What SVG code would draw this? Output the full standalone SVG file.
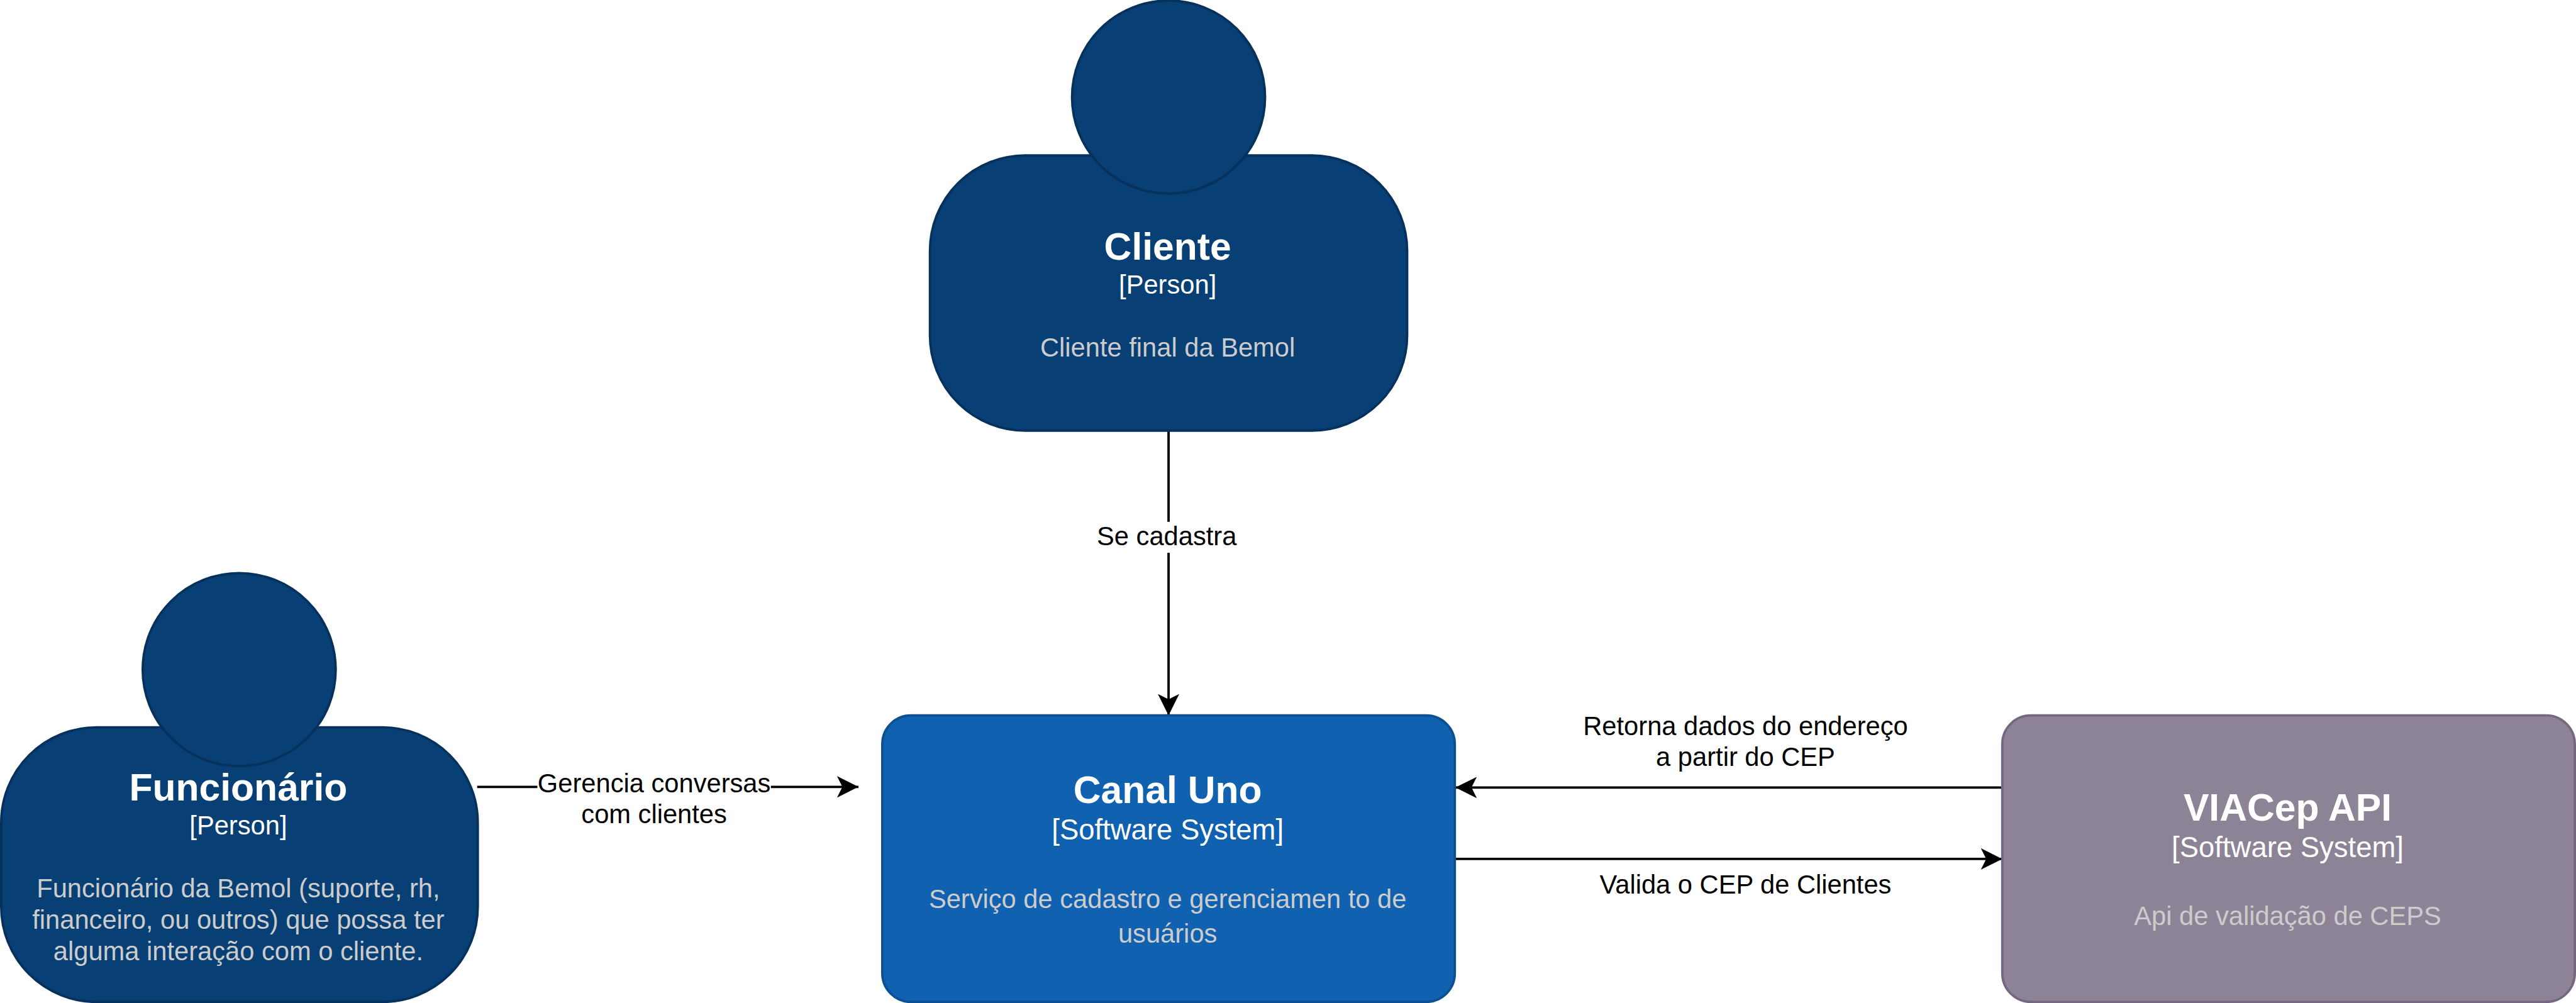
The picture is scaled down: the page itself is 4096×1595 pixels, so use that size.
<svg xmlns="http://www.w3.org/2000/svg" width="4096" height="1595" viewBox="0 0 4096 1595">
<style>
text{font-family:"Liberation Sans",Arial,sans-serif;text-anchor:middle}
.t{font-size:64px;font-weight:bold;fill:#fff}
.k{font-size:44px;fill:#fff}
.s{font-size:48px;fill:#fff}
.d{font-size:44px;fill:#ccc}
.l{font-size:44px;fill:#000}
.person{fill:#083f75;stroke:#06315c;stroke-width:4}
.sys{fill:#1061b0;stroke:#0d5091;stroke-width:4}
.ext{fill:#8c8496;stroke:#736782;stroke-width:4}
.c{fill:none;stroke:#000;stroke-width:4;marker-end:url(#arrow)}
</style>
<defs>
<marker id="arrow" markerUnits="userSpaceOnUse" markerWidth="36" markerHeight="36" viewBox="0 0 36 36" refX="36" refY="18" orient="auto">
<path d="M36 18L0 0L9 18L0 36Z" fill="#000"/>
</marker>
</defs>
<rect width="4096" height="1595" fill="#fff"/>
<g transform="scale(0.94727)">
<g id="connectors">
<path class="c" d="M1961.500 723V1201"/>
<path class="c" d="M801 1321H1441"/>
<path class="c" d="M3361 1322H2443"/>
<path class="c" d="M2443 1442H3361"/>
<rect x="1838" y="876" width="246" height="52" fill="#fff"/>
<rect x="902" y="1295" width="392" height="50" fill="#fff"/>
<text class="l" x="1958.500" y="915">Se cadastra</text>
<text class="l" x="1098" y="1330">Gerencia conversas</text>
<text class="l" x="1098" y="1382">com clientes</text>
<text class="l" x="2930" y="1234">Retorna dados do endereço</text>
<text class="l" x="2930" y="1286">a partir do CEP</text>
<text class="l" x="2930" y="1500">Valida o CEP de Clientes</text>
</g>
<g id="cliente">
<rect class="person" x="1561" y="261" width="801" height="462" rx="160" ry="160"/>
<circle class="person" cx="1961.500" cy="163" r="162"/>
<text class="t" x="1960" y="436">Cliente</text>
<text class="k" x="1960" y="493">[Person]</text>
<text class="d" x="1960" y="599">Cliente final da Bemol</text>
</g>
<g id="funcionario">
<rect class="person" x="2" y="1221" width="800" height="461" rx="160" ry="160"/>
<circle class="person" cx="401.500" cy="1124" r="162"/>
<text class="t" x="400" y="1344">Funcionário</text>
<text class="k" x="400" y="1401">[Person]</text>
<text class="d" x="400" y="1506">Funcionário da Bemol (suporte, rh,</text>
<text class="d" x="400" y="1559">financeiro, ou outros) que possa ter</text>
<text class="d" x="400" y="1612">alguma interação com o cliente.</text>
</g>
<g id="canal-uno">
<rect class="sys" x="1481" y="1201" width="961" height="481" rx="48" ry="48"/>
<text class="t" x="1960" y="1348">Canal Uno</text>
<text class="s" x="1960" y="1409">[Software System]</text>
<text class="d" x="1960" y="1524">Serviço de cadastro e gerenciamen to de</text>
<text class="d" x="1960" y="1582">usuários</text>
</g>
<g id="viacep">
<rect class="ext" x="3361" y="1201" width="961" height="481" rx="48" ry="48"/>
<text class="t" x="3840" y="1378">VIACep API</text>
<text class="s" x="3840" y="1439">[Software System]</text>
<text class="d" x="3840" y="1553">Api de validação de CEPS</text>
</g>
</g>
</svg>
